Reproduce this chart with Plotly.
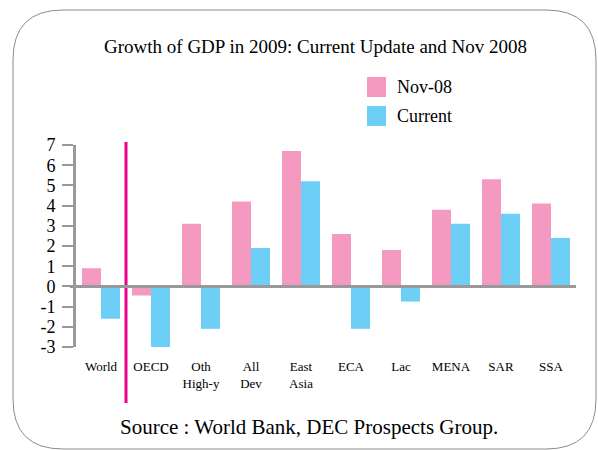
import plotly.graph_objects as go

categories = ['World', 'OECD', 'Oth<br>High-y', 'All<br>Dev', 'East<br>Asia',
              'ECA', 'Lac', 'MENA', 'SAR', 'SSA']
nov_08 = [0.9, -0.45, 3.1, 4.2, 6.7, 2.6, 1.8, 3.8, 5.3, 4.1]
current = [-1.6, -3.0, -2.1, 1.9, 5.2, -2.1, -0.75, 3.1, 3.6, 2.4]
y_ticks = [-3, -2, -1, 0, 1, 2, 3, 4, 5, 6, 7]
y_tick_text = ['-3', '-2', '-1', '0', '1', '2', '3', '4', '5', '6', '7']

W, H = 598, 450
L, R, T, B = 76, 22, 145, 103
PW, PH = W - L - R, H - T - B


def px(x):
    return (x - L) / PW


def py(y):
    return (H - B - y) / PH


PINK = '#F49AC1'
BLUE = '#6DCFF6'
FONT = 'Times New Roman, Liberation Serif, serif'

fig = go.Figure()
fig.add_trace(go.Bar(x=list(range(len(categories))), y=nov_08, name='Nov-08',
                     marker=dict(color=PINK, line_width=0)))
fig.add_trace(go.Bar(x=list(range(len(categories))), y=current, name='Current',
                     marker=dict(color=BLUE, line_width=0)))

# rounded frame around the whole chart
x0, x1, y0, y1, r = px(13), px(596), py(10), py(449), 50
rx, ry = r / PW, r / PH
frame = (f'M {x0+rx},{y0} L {x1-rx},{y0} Q {x1},{y0} {x1},{y0-ry} '
         f'L {x1},{y1+ry} Q {x1},{y1} {x1-rx},{y1} '
         f'L {x0+rx},{y1} Q {x0},{y1} {x0},{y1+ry} '
         f'L {x0},{y0-ry} Q {x0},{y0} {x0+rx},{y0} Z')
fig.add_shape(type='path', path=frame, xref='paper', yref='paper',
              line=dict(color='#8c8c8c', width=1), layer='below')

# magenta divider between World and the regions
fig.add_shape(type='line', xref='x', yref='paper', x0=0.5, x1=0.5,
              y0=py(142), y1=py(403), line=dict(color='#EC008C', width=3))

# zero line runs a little past the y axis on the left
fig.add_shape(type='line', xref='paper', yref='y', x0=px(70), x1=1, y0=0, y1=0,
              line=dict(color='#999999', width=3))

# custom legend
for i, (name, col) in enumerate([('Nov-08', PINK), ('Current', BLUE)]):
    top = 77 + i * 29
    fig.add_shape(type='rect', xref='paper', yref='paper',
                  x0=px(367), x1=px(386), y0=py(top), y1=py(top + 20),
                  fillcolor=col, line_width=0)
    fig.add_annotation(x=px(395), y=py(top + 10), xref='paper', yref='paper',
                       text=name, showarrow=False, xanchor='left', yanchor='middle',
                       font=dict(family=FONT, size=18, color='black'))

fig.add_annotation(x=px(315), y=py(46), xref='paper', yref='paper',
                   text='Growth of GDP in 2009: Current Update and Nov 2008',
                   showarrow=False, xanchor='center', yanchor='middle',
                   font=dict(family=FONT, size=19, color='black'))
fig.add_annotation(x=px(309), y=py(427), xref='paper', yref='paper',
                   text='Source : World Bank, DEC Prospects Group.',
                   showarrow=False, xanchor='center', yanchor='middle',
                   font=dict(family=FONT, size=21, color='black'))

fig.update_layout(
    width=W, height=H, margin=dict(l=L, r=R, t=T, b=B),
    plot_bgcolor='white', paper_bgcolor='white', showlegend=False,
    barmode='group', bargap=0.24, bargroupgap=0,
    font=dict(family=FONT, color='black'),
)
fig.update_xaxes(tickmode='array', tickvals=list(range(len(categories))),
                 ticktext=categories, range=[-0.5, 9.5], showgrid=False,
                 showline=False, zeroline=False, ticks='outside', ticklen=7,
                 tickcolor='rgba(0,0,0,0)', tickfont=dict(size=13))
fig.update_yaxes(range=[-3, 7], tickmode='array', tickvals=y_ticks,
                 ticktext=y_tick_text, showgrid=False,
                 showline=True, linecolor='#999999', linewidth=3,
                 ticks='outside', ticklen=11, tickwidth=2, tickcolor='#999999',
                 zeroline=False, tickfont=dict(size=18), ticklabelstandoff=3)

fig.write_html('out.html', config={'displayModeBar': False},
               post_script="document.body.style.margin='0';")
